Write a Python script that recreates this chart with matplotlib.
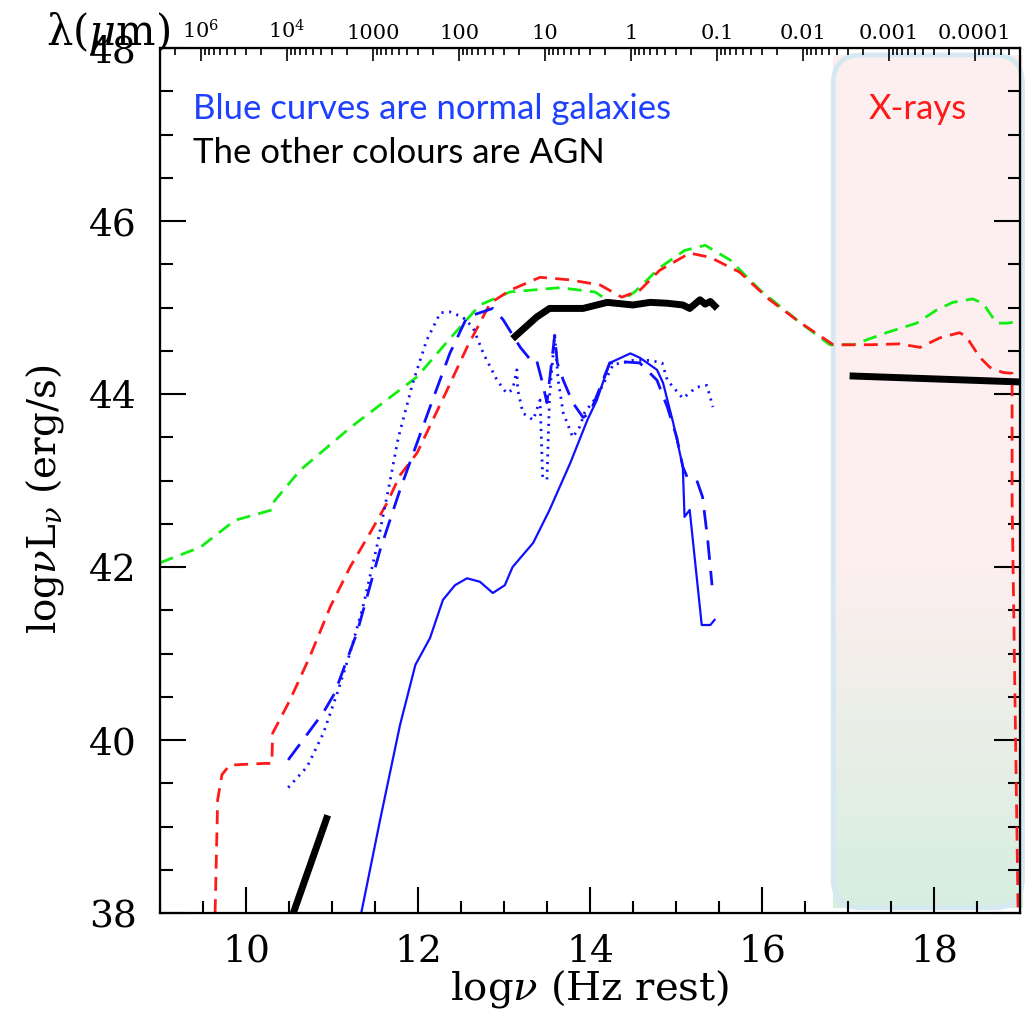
import numpy as np
import matplotlib
matplotlib.use("Agg")
import matplotlib.pyplot as plt
from matplotlib.patches import FancyBboxPatch
from matplotlib.ticker import MultipleLocator, FixedLocator, FixedFormatter

plt.rcParams['font.family'] = ['DejaVu Serif']
plt.rcParams['mathtext.fontset'] = 'dejavuserif'
plt.rcParams['lines.scale_dashes'] = False

# AGN template (green dashed)
green_x = [9.0, 9.47, 9.87, 10.30, 10.31, 10.63, 11.21, 11.99, 12.37, 12.72, 13.07, 13.65,
           14.06, 14.29, 14.52, 14.81, 15.10, 15.34, 15.63, 15.98, 16.44, 16.79, 17.06,
           17.45, 17.80, 18.03, 18.22, 18.45, 18.57, 18.73, 18.85, 19.0]
green_y = [42.05, 42.23, 42.54, 42.66, 42.74, 43.12, 43.61, 44.20, 44.64, 45.03, 45.18, 45.23,
           45.18, 45.03, 45.18, 45.46, 45.66, 45.72, 45.55, 45.20, 44.83, 44.57, 44.57,
           44.71, 44.82, 44.97, 45.06, 45.10, 45.05, 44.82, 44.82, 44.84]

# AGN template (red dashed)
red_x = [9.64, 9.67, 9.72, 9.81, 10.22, 10.30, 10.31, 10.51, 10.74, 10.98, 11.21, 11.44,
         11.64, 11.79, 11.99, 12.34, 12.57, 12.84, 13.07, 13.42, 13.77, 14.12, 14.37, 14.58,
         14.81, 15.16, 15.40, 15.74, 16.09, 16.44, 16.83, 17.26, 17.60, 17.84, 18.07, 18.30,
         18.38, 18.53, 18.65, 18.80, 18.91, 18.91, 18.98]
red_y = [38.0, 39.31, 39.60, 39.71, 39.73, 39.73, 40.08, 40.46, 40.96, 41.54, 42.00, 42.39,
         42.74, 43.06, 43.32, 44.05, 44.54, 45.05, 45.20, 45.35, 45.32, 45.26, 45.12, 45.20,
         45.43, 45.63, 45.58, 45.41, 45.09, 44.83, 44.57, 44.57, 44.58, 44.54, 44.65, 44.71,
         44.66, 44.43, 44.31, 44.25, 44.24, 42.77, 38.0]

# AGN pieces (thick black)
radio_x = [10.55, 10.95]
radio_y = [38.0, 39.13]
opt_x = [13.10, 13.38, 13.53, 13.92, 14.20, 14.50, 14.70, 14.90, 15.08, 15.16, 15.28, 15.34,
         15.40, 15.48]
opt_y = [44.64, 44.89, 44.99, 44.99, 45.06, 45.03, 45.06, 45.05, 45.03, 44.99, 45.09, 45.04,
         45.07, 44.99]
xray_x = [17.02, 19.0]
xray_y = [44.21, 44.14]

# normal galaxies (blue)
sol_x = [11.34, 11.56, 11.79, 11.97, 12.14, 12.29, 12.43, 12.57, 12.72, 12.87, 13.01, 13.10,
         13.34, 13.53, 13.77, 13.97, 14.08, 14.23, 14.47, 14.58, 14.78, 14.85, 14.97, 15.08,
         15.10, 15.16, 15.30, 15.40, 15.45]
sol_y = [38.0, 39.08, 40.17, 40.87, 41.18, 41.62, 41.79, 41.87, 41.83, 41.70, 41.79, 42.00,
         42.28, 42.66, 43.20, 43.70, 43.93, 44.36, 44.47, 44.42, 44.28, 44.13, 43.66, 43.16,
         42.58, 42.66, 41.33, 41.33, 41.39]

dash_x = [10.49, 10.90, 11.03, 11.29, 11.56, 11.79, 12.14, 12.37, 12.57, 12.87, 12.99, 13.19,
          13.33, 13.38, 13.44, 13.50, 13.56, 13.59, 13.62, 13.69, 13.80, 13.92, 14.00, 14.23,
          14.43, 14.58, 14.78, 14.90, 15.01, 15.08, 15.13, 15.24, 15.31, 15.37, 15.42]
dash_y = [39.77, 40.32, 40.54, 41.24, 42.20, 42.89, 43.85, 44.47, 44.89, 44.99, 44.86, 44.54,
          44.37, 44.39, 44.16, 43.90, 44.42, 44.68, 44.36, 44.16, 43.90, 43.73, 43.78, 44.36,
          44.37, 44.36, 44.16, 43.85, 43.50, 43.16, 43.04, 43.01, 42.81, 42.31, 41.79]

dot_x = [10.49, 10.71, 10.90, 11.06, 11.21, 11.36, 11.52, 11.67, 11.77, 11.94, 12.10, 12.26,
         12.37, 12.52, 12.64, 12.76, 12.92, 13.03, 13.10, 13.15, 13.16, 13.22, 13.34, 13.42,
         13.45, 13.50, 13.53, 13.59, 13.63, 13.69, 13.80, 13.88, 13.94, 14.08, 14.27, 14.50,
         14.70, 14.84, 14.90, 15.08, 15.24, 15.36, 15.43]
dot_y = [39.45, 39.69, 40.08, 40.54, 41.01, 41.54, 42.23, 42.97, 43.49, 44.13, 44.62, 44.94,
         44.95, 44.89, 44.77, 44.47, 44.16, 44.01, 44.05, 44.28, 44.05, 43.78, 43.70, 43.93,
         43.04, 43.01, 43.97, 44.68, 44.16, 43.78, 43.50, 43.62, 43.79, 43.97, 44.34, 44.39,
         44.39, 44.36, 44.16, 43.95, 44.08, 44.10, 43.85]

# top axis: wavelength in micron, log lambda = 14.477 - log nu
lam_ticks = [5, 4, 3, 2, 1, 0, -1, -2, -3, -4]
lam_labels = ["$10^6$", "$10^4$", "1000", "100", "10", "1", "0.1", "0.01", "0.001", "0.0001"]

fig = plt.figure(figsize=(10.26, 10.23), dpi=100)
ax = fig.add_axes([0.156, 0.1075, 0.838, 0.8455])

# X-ray band box with gradient
bx0, bx1, by0, by1 = 16.83, 19.03, 38.06, 47.92
n = 256
t = np.linspace(0, 1, n)
top_c = np.array([253, 239, 239]) / 255
bot_c = np.array([214, 238, 224]) / 255
w = np.clip((t - 0.6) / 0.4, 0, 1)[:, None]
grad = (top_c * (1 - w) + bot_c * w)[:, None, :]
box = FancyBboxPatch((bx0, by0), bx1 - bx0, by1 - by0,
                     boxstyle="round,pad=0,rounding_size=0.33",
                     facecolor='none', edgecolor='none', transform=ax.transData)
ax.add_patch(box)
im = ax.imshow(grad, extent=[bx0, bx1, by0, by1], aspect='auto', origin='upper',
               zorder=0.5, clip_on=False)
im.set_clip_path(box)
edge = FancyBboxPatch((bx0, by0), bx1 - bx0, by1 - by0,
                      boxstyle="round,pad=0,rounding_size=0.33",
                      facecolor='none', edgecolor='#d6e8f1', lw=3.5, zorder=0.6,
                      clip_on=False)
ax.add_patch(edge)

ax.plot(green_x, green_y, color='#11ee11', lw=2, dashes=(10, 6))
ax.plot(red_x, red_y, color='#ff1a1a', lw=2, dashes=(10, 6))
ax.plot(dash_x, dash_y, color='#1010ff', lw=2, dashes=(14, 8))
ax.plot(dot_x, dot_y, color='#1010ff', lw=2, dashes=(1.5, 4))
ax.plot(sol_x, sol_y, color='#1010ff', lw=1.6)
for xs, ys in [(radio_x, radio_y), (opt_x, opt_y), (xray_x, xray_y)]:
    ax.plot(xs, ys, color='black', lw=5, solid_capstyle='butt')

ax.set_xlim(9, 19)
ax.set_ylim(38, 48)
ax.xaxis.set_major_locator(MultipleLocator(2))
ax.xaxis.set_minor_locator(MultipleLocator(0.5))
ax.yaxis.set_major_locator(MultipleLocator(2))
ax.yaxis.set_minor_locator(MultipleLocator(0.5))
ax.tick_params(which='both', direction='in', top=False, right=True, width=1.5,
               labelsize=27)
ax.tick_params(which='major', length=19)
ax.tick_params(which='minor', length=9)
ax.tick_params(axis='x', pad=15)
ax.tick_params(axis='y', pad=17)
for s in ax.spines.values():
    s.set_linewidth(1.6)

tax = ax.twiny()
tax.set_xlim(14.477 - 9, 14.477 - 19)
tax.xaxis.set_major_locator(FixedLocator(lam_ticks))
tax.xaxis.set_major_formatter(FixedFormatter(lam_labels))
minor = [d + np.log10(k) for d in range(-5, 6) for k in range(2, 10)]
tax.xaxis.set_minor_locator(FixedLocator(minor))
tax.tick_params(which='both', direction='in', width=1.2, labelsize=15, pad=4)
tax.tick_params(which='major', length=9)
tax.tick_params(which='minor', length=5)

fig.text(0.105, 0.968, "λ($\\mu$m)", fontsize=30, ha='center', va='center')
fig.text(0.575, 0.033, "log$\\nu$ (Hz rest)", fontsize=29, ha='center', va='center')
fig.text(0.044, 0.512, "log$\\nu$L$_\\nu$ (erg/s)", fontsize=28, ha='center',
         va='center', rotation=90)

ax.text(0.038, 0.918, "Blue curves are normal galaxies", transform=ax.transAxes,
        family='Lato', fontsize=25, color='#1e40ff', va='baseline')
ax.text(0.038, 0.867, "The other colours are AGN", transform=ax.transAxes,
        family='Lato', fontsize=25, color='black', va='baseline')
ax.text(0.881, 0.918, "X-rays", transform=ax.transAxes, family='Lato', fontsize=25,
        color='#ff1a1a', va='baseline', ha='center')

fig.savefig("out.png", dpi=100)
